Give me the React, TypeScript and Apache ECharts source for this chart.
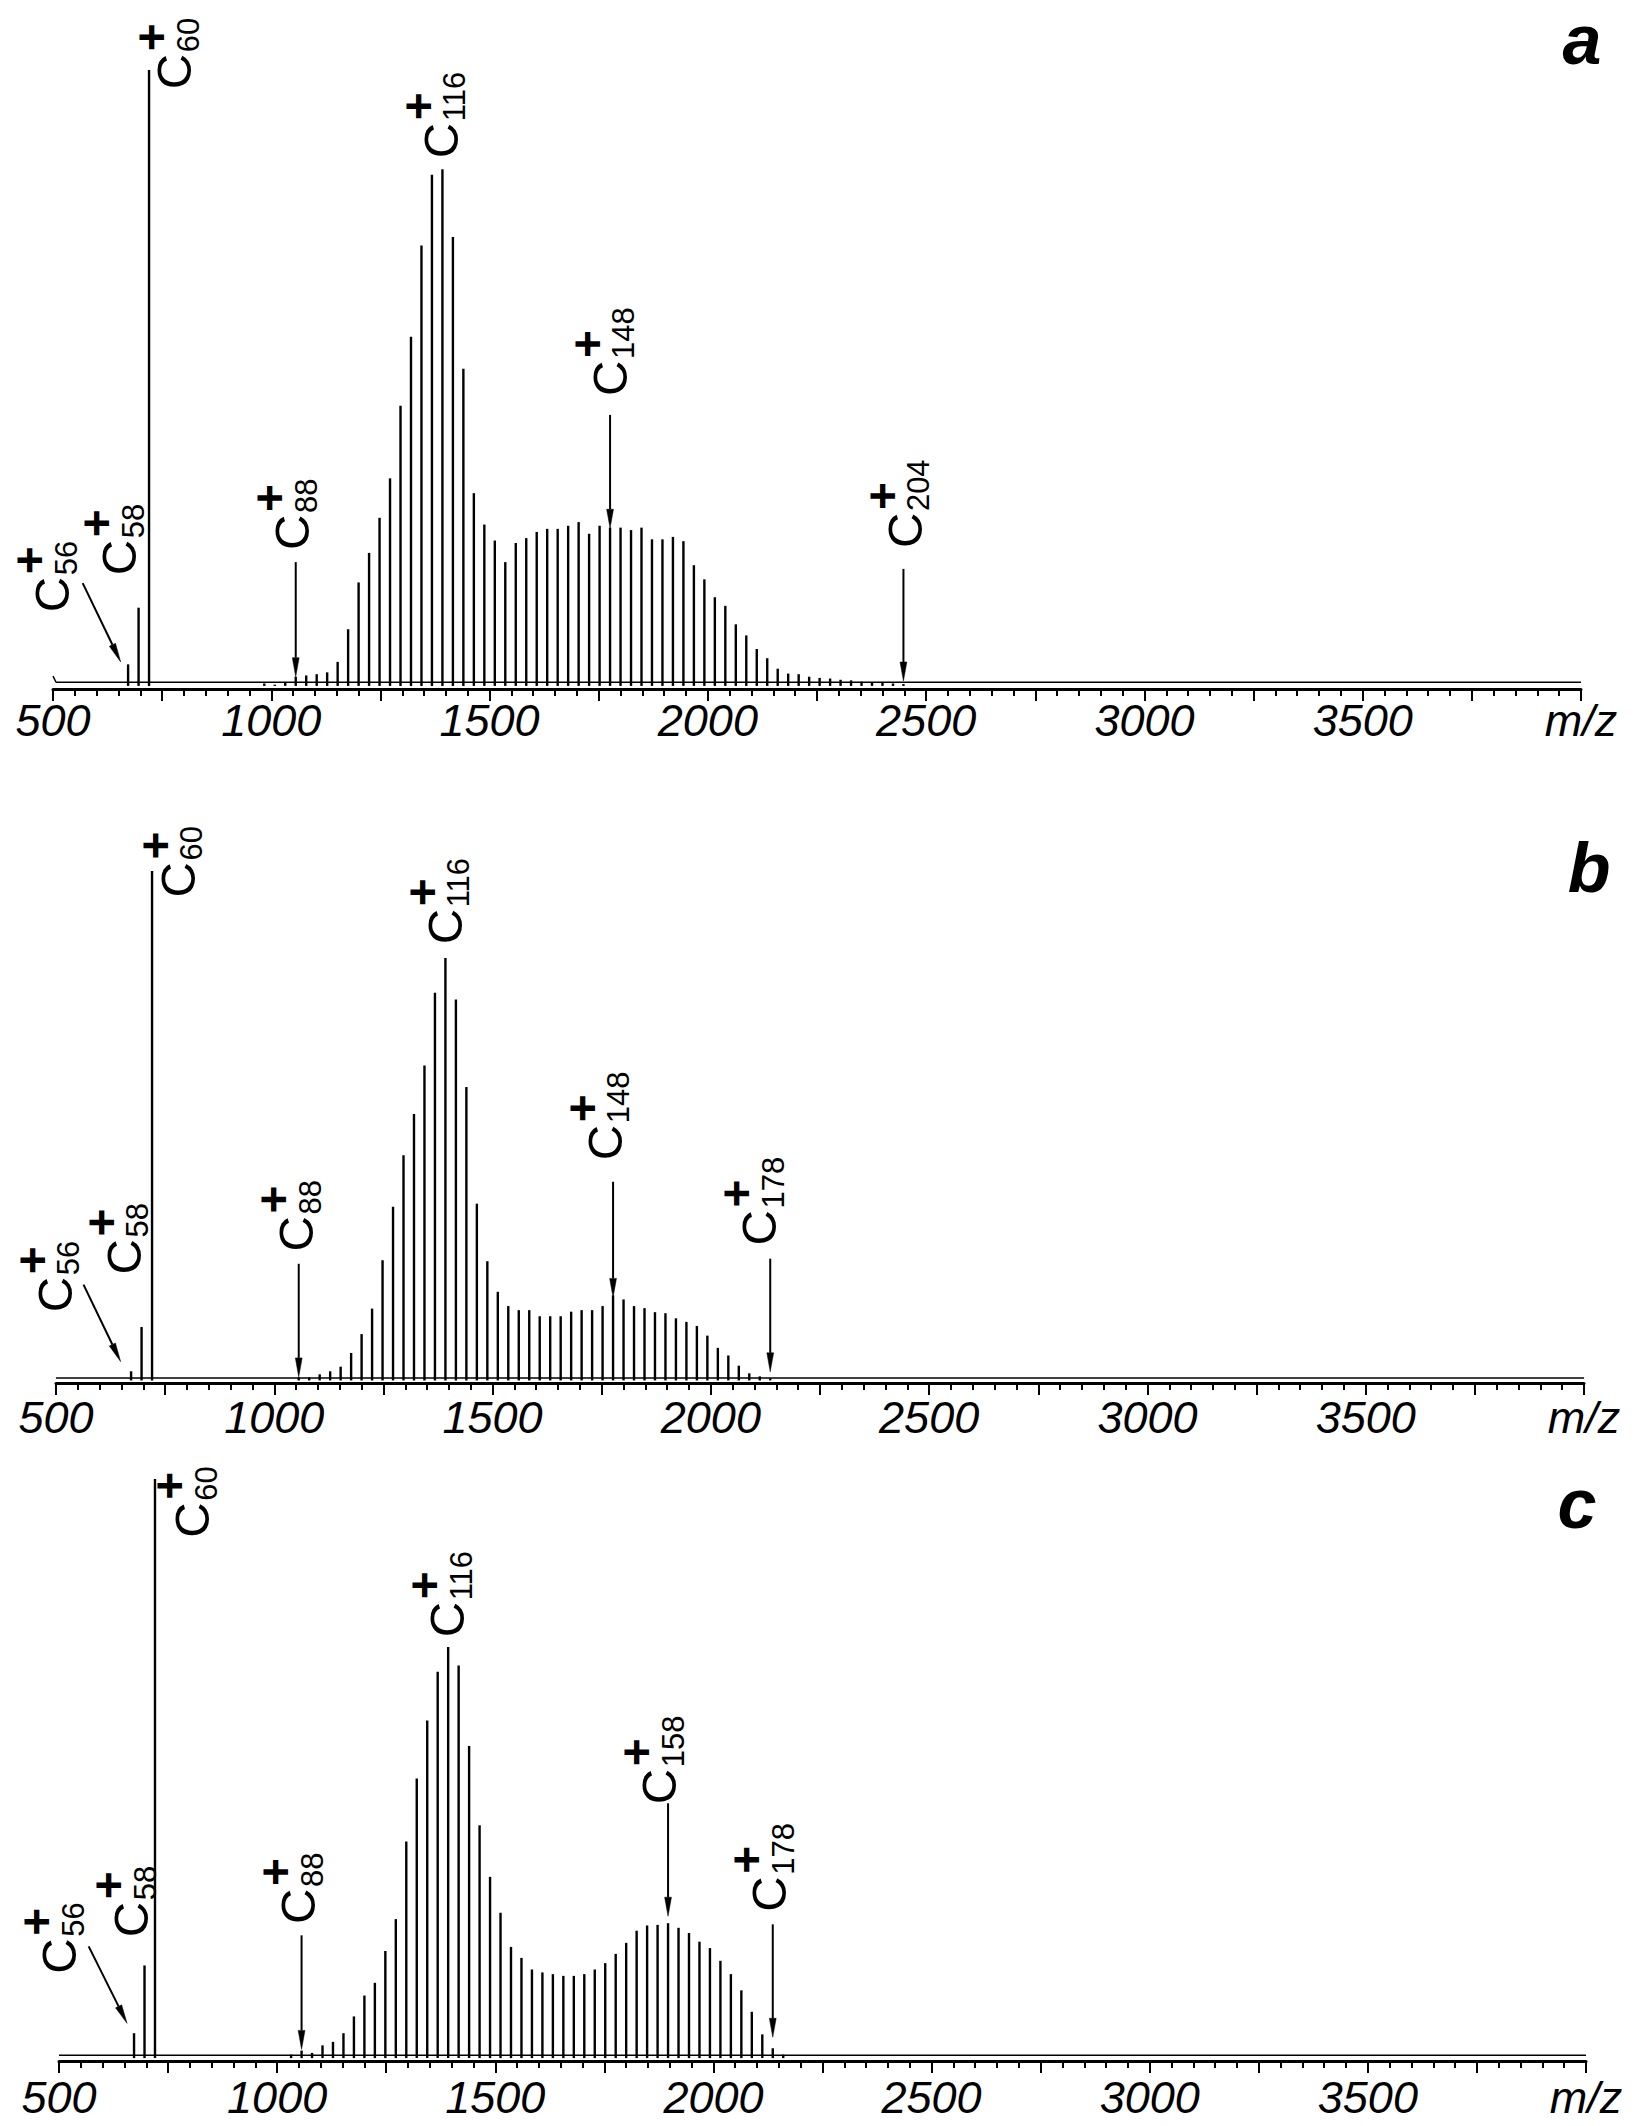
import React, { useEffect, useRef } from "react";
import * as echarts from "echarts";

const FONT = '"Liberation Sans", Arial, Helvetica, sans-serif';

// Cluster sizes (C_n) and their m/z values
const mzA = [672, 696, 720, 984, 1008, 1032, 1056, 1080, 1104, 1128, 1152, 1176, 1200, 1224, 1248, 1272, 1296, 1320, 1344, 1368, 1392, 1416, 1440, 1464, 1488, 1512, 1536, 1560, 1584, 1608, 1632, 1656, 1680, 1704, 1728, 1752, 1776, 1800, 1824, 1848, 1872, 1896, 1920, 1944, 1968, 1992, 2016, 2040, 2064, 2088, 2112, 2136, 2160, 2184, 2208, 2232, 2256, 2280, 2304, 2328, 2352, 2376, 2400, 2424, 2448];
const intensityA = [3.5, 12.7, 100, 0.4, 0.2, 0.6, 1.5, 1.7, 1.9, 2.2, 3.9, 9.2, 16.8, 21.6, 27.3, 33.7, 45.5, 56.7, 71.5, 83.0, 83.9, 72.9, 51.5, 31.3, 26.2, 23.6, 20.1, 23.2, 24.0, 25.0, 25.5, 25.5, 26.0, 26.6, 24.7, 26.0, 25.7, 25.7, 25.3, 25.7, 23.8, 23.8, 24.2, 23.5, 19.6, 17.3, 14.4, 13.0, 10.0, 8.2, 6.0, 4.5, 2.8, 2.0, 1.9, 1.5, 1.3, 1.2, 1.0, 0.9, 0.7, 0.6, 0.5, 0.4, 0.3];

const mzB = [672, 696, 720, 1056, 1080, 1104, 1128, 1152, 1176, 1200, 1224, 1248, 1272, 1296, 1320, 1344, 1368, 1392, 1416, 1440, 1464, 1488, 1512, 1536, 1560, 1584, 1608, 1632, 1656, 1680, 1704, 1728, 1752, 1776, 1800, 1824, 1848, 1872, 1896, 1920, 1944, 1968, 1992, 2016, 2040, 2064, 2088, 2112, 2136];
const intensityB = [1.8, 10.5, 100, 0.6, 0.6, 1.2, 1.8, 2.7, 5.4, 9.1, 14.1, 23.6, 34.1, 44.2, 52.3, 61.8, 76.1, 82.9, 74.8, 57.6, 34.7, 23.4, 17.4, 14.6, 13.8, 13.8, 12.6, 12.6, 12.6, 13.5, 13.8, 13.8, 14.6, 16.7, 15.9, 14.6, 14.2, 13.4, 13.2, 12.2, 11.5, 10.7, 8.8, 6.4, 4.9, 2.9, 1.4, 0.8, 0.4];

const mzC = [672, 696, 720, 1032, 1056, 1080, 1104, 1128, 1152, 1176, 1200, 1224, 1248, 1272, 1296, 1320, 1344, 1368, 1392, 1416, 1440, 1464, 1488, 1512, 1536, 1560, 1584, 1608, 1632, 1656, 1680, 1704, 1728, 1752, 1776, 1800, 1824, 1848, 1872, 1896, 1920, 1944, 1968, 1992, 2016, 2040, 2064, 2088, 2112, 2136, 2160];
const intensityC = [4.3, 16.0, 100, 0.6, 1.3, 0.9, 2.2, 2.8, 4.3, 7.2, 10.8, 13.0, 18.5, 24.0, 37.4, 48.3, 58.3, 66.7, 71.0, 67.8, 53.9, 40.2, 31.3, 25.1, 19.2, 17.3, 15.3, 14.8, 14.5, 14.2, 14.2, 14.5, 15.3, 16.4, 18.0, 19.9, 22.0, 22.9, 23.0, 23.3, 22.5, 21.6, 20.1, 19.0, 16.8, 14.5, 11.7, 8.0, 4.1, 1.7, 0.6];

// Baseline trace of each spectrum [m/z, intensity]
const baselineA = [[500, 1.6], [507, 0.6], [4000, 0.6]];
const baselineB = [[500, 0.5], [4000, 0.5]];
const baselineC = [[500, 0.5], [4000, 0.5]];

// Annotations: [n, labelMz, labelIntensity, hasArrow, arrowFromMz, arrowFromI, arrowToMz, arrowToI]
const annotationsA = [
  [56, 538, 12.3, 1, 568, 16.7, 655, 3.9],
  [58, 692, 18.3, 0, 0, 0, 0, 0],
  [60, 818, 97.2, 0, 0, 0, 0, 0],
  [88, 1088, 22.4, 1, 1056, 20.1, 1056, 1.5],
  [116, 1428, 86.0, 0, 0, 0, 0, 0],
  [148, 1815, 47.4, 1, 1776, 44.0, 1776, 25.6],
  [204, 2491, 22.7, 1, 2448, 19.0, 2448, 0.8],
];
const annotationsB = [
  [56, 537, 13.8, 1, 563, 18.8, 648, 3.7],
  [58, 695, 21.2, 0, 0, 0, 0, 0],
  [60, 819, 95.2, 0, 0, 0, 0, 0],
  [88, 1090, 25.7, 1, 1056, 22.9, 1056, 0.7],
  [116, 1431, 86.0, 0, 0, 0, 0, 0],
  [148, 1797, 43.6, 1, 1776, 39.0, 1776, 16.3],
  [178, 2151, 26.9, 1, 2136, 23.9, 2136, 1.7],
];
const annotationsC = [
  [56, 541, 14.9, 1, 568, 19.3, 656, 6.0],
  [58, 706, 21.2, 0, 0, 0, 0, 0],
  [60, 846, 90.2, 0, 0, 0, 0, 0],
  [88, 1089, 23.5, 1, 1056, 21.2, 1056, 1.5],
  [116, 1430, 73.0, 0, 0, 0, 0, 0],
  [158, 1916, 44.2, 1, 1896, 44.0, 1896, 24.5],
  [178, 2168, 25.6, 1, 2136, 23.1, 2136, 3.6],
];

const xTickValues = [500, 1000, 1500, 2000, 2500, 3000, 3500, 4000];
const xTickLabels = ["500", "1000", "1500", "2000", "2500", "3000", "3500", "m/z"];
const panelLetters = ["a", "b", "c"];

const panels = [
  { mz: mzA, inten: intensityA, base: baselineA, ann: annotationsA },
  { mz: mzB, inten: intensityB, base: baselineB, ann: annotationsB },
  { mz: mzC, inten: intensityC, base: baselineC, ann: annotationsC },
];

const grids = [
  { left: 53, top: 70, width: 1528, height: 619 },
  { left: 56, top: 871, width: 1528, height: 512 },
  { left: 59, top: 1479, width: 1527, height: 582 },
];
const labelMargins = [9, 12, 14];
const letterPos = [
  [1582, 40],
  [1589, 868],
  [1577, 1504],
];

function peakRender(params: any, api: any) {
  const x = api.value(0);
  const v = api.value(1);
  const p0 = api.coord([x, 0]);
  const p1 = api.coord([x, v]);
  return {
    type: "line",
    shape: { x1: p0[0], y1: p0[1], x2: p1[0], y2: p1[1] },
    style: { stroke: "#000", lineWidth: 2.4 },
  };
}

function annRender(params: any, api: any) {
  const n = api.value(0);
  const o = api.coord([api.value(1), api.value(2)]);
  const children: any[] = [
    {
      type: "group",
      x: o[0],
      y: o[1],
      rotation: Math.PI / 2,
      children: [
        {
          type: "text",
          style: { text: "C", x: -2, y: -17.5, fontSize: 49, fontFamily: FONT, fill: "#000", align: "left", verticalAlign: "middle" },
        },
        {
          type: "text",
          style: { text: String(n), x: 35, y: -3.5, fontSize: 31, fontFamily: FONT, fill: "#000", align: "left", verticalAlign: "middle" },
        },
        {
          type: "text",
          style: { text: "+", x: 50, y: -40, fontSize: 48, fontWeight: "bold", fontFamily: FONT, fill: "#000", align: "center", verticalAlign: "middle" },
        },
      ],
    },
  ];
  if (api.value(3) === 1) {
    const a = api.coord([api.value(4), api.value(5)]);
    const b = api.coord([api.value(6), api.value(7)]);
    const dx = b[0] - a[0];
    const dy = b[1] - a[1];
    const len = Math.sqrt(dx * dx + dy * dy) || 1;
    const ux = dx / len;
    const uy = dy / len;
    const L = 19;
    const W = 3.4;
    const bx = b[0] - ux * L;
    const by = b[1] - uy * L;
    children.push({
      type: "line",
      shape: { x1: a[0], y1: a[1], x2: bx, y2: by },
      style: { stroke: "#000", lineWidth: 2 },
    });
    children.push({
      type: "polygon",
      shape: {
        points: [
          [b[0], b[1]],
          [bx - uy * W, by + ux * W],
          [bx + uy * W, by - ux * W],
        ],
      },
      style: { fill: "#000", stroke: "#000", lineWidth: 0.5 },
    });
  }
  return { type: "group", children };
}

export default function App() {
  const ref = useRef<HTMLDivElement>(null);
  useEffect(() => {
    if (!ref.current) return;
    const chart = echarts.init(ref.current, undefined, { renderer: "svg" });
    const series: any[] = [];
    panels.forEach((p, i) => {
      series.push({
        type: "custom",
        xAxisIndex: i,
        yAxisIndex: i,
        renderItem: peakRender,
        data: p.mz.map((m, k) => [m, p.inten[k]]),
        encode: { x: 0, y: 1 },
        clip: false,
        silent: true,
        z: 3,
      });
      series.push({
        type: "line",
        xAxisIndex: i,
        yAxisIndex: i,
        data: p.base,
        symbol: "none",
        lineStyle: { color: "#000", width: 1.5 },
        silent: true,
        z: 2,
      });
      series.push({
        type: "custom",
        xAxisIndex: i,
        yAxisIndex: i,
        renderItem: annRender,
        data: p.ann,
        encode: { x: 1, y: 2 },
        clip: false,
        silent: true,
        z: 5,
      });
    });
    chart.setOption({
      animation: false,
      backgroundColor: "#fff",
      grid: grids.map((g) => ({ ...g, containLabel: false })),
      xAxis: grids.map((g, i) => ({
        type: "value",
        gridIndex: i,
        min: 500,
        max: 4000,
        interval: 250,
        axisLine: { show: true, onZero: false, lineStyle: { color: "#000", width: 3 } },
        axisTick: { show: true, inside: false, length: 12, lineStyle: { color: "#000", width: 2 } },
        minorTick: { show: true, splitNumber: 5, length: 7, lineStyle: { color: "#000", width: 2 } },
        splitLine: { show: false },
        minorSplitLine: { show: false },
        axisLabel: {
          show: true,
          margin: labelMargins[i],
          fontSize: 45,
          fontStyle: "italic",
          fontFamily: FONT,
          color: "#000",
          showMinLabel: true,
          showMaxLabel: true,
          hideOverlap: false,
          formatter: (v: number) => {
            const idx = xTickValues.indexOf(v);
            return idx >= 0 ? xTickLabels[idx] : "";
          },
        },
      })),
      yAxis: grids.map((g, i) => ({
        type: "value",
        gridIndex: i,
        min: -0.5,
        max: 100,
        show: false,
        splitLine: { show: false },
      })),
      graphic: panelLetters.map((t, i) => ({
        type: "text",
        x: letterPos[i][0],
        y: letterPos[i][1],
        style: {
          text: t,
          fontSize: 70,
          fontWeight: "bold",
          fontStyle: "italic",
          fontFamily: FONT,
          fill: "#000",
          align: "center",
          verticalAlign: "middle",
        },
      })),
      series,
    });
    return () => chart.dispose();
  }, []);
  return (
    <div
      ref={ref}
      style={{ position: "absolute", left: 0, top: 0, width: 1649, height: 2126, background: "#fff" }}
    />
  );
}
